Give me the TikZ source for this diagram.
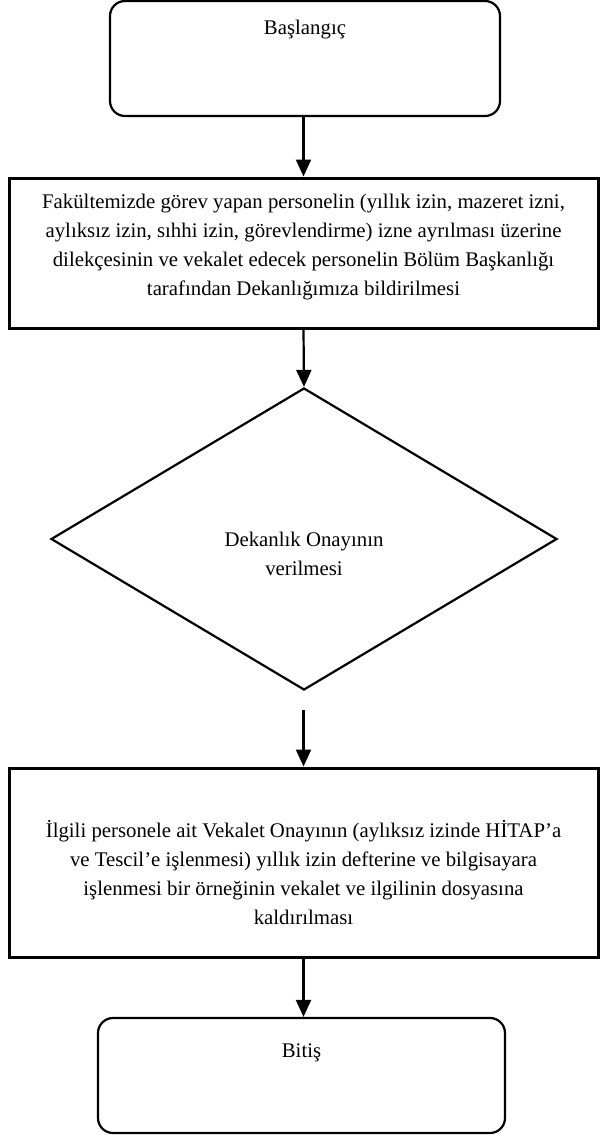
\documentclass[tikz,border=0pt]{standalone}
\usepackage{fontspec}
\setmainfont{Liberation Serif}
\usetikzlibrary{arrows.meta,shapes.geometric}
\begin{document}
\begin{tikzpicture}[x=1pt,y=-1pt,
 term/.style={draw, line width=2.2pt, rounded corners=15pt, inner sep=0},
 proc/.style={draw, line width=3pt, minimum width=589pt, inner sep=0},
 dec/.style={draw, diamond, line width=2.2pt, minimum width=506pt, minimum height=302pt, inner sep=0},
 txt/.style={font=\fontsize{20.8}{29}\selectfont, align=center, inner sep=0},
 arr/.style={line width=2.2pt, -{Triangle[width=15pt,length=17pt]}}]
\useasboundingbox (0,0) rectangle (600,1135);
\node[term, minimum width=390pt, minimum height=115pt] (start) at (305,58.5) {};
\node[proc, minimum height=150pt] (box2) at (303.5,253) {};
\node[dec] (dec) at (304,539) {};
\node[proc, minimum height=189pt] (box3) at (303.5,862.5) {};
\node[term, minimum width=407pt, minimum height=115pt] (end) at (301.5,1075.5) {};
\node[txt] (t1) at (305,30) {Başlangıç};
\node[txt] (t2) at (303.5,247) {Fakültemizde görev yapan personelin (yıllık izin, mazeret izni,\\aylıksız izin, sıhhi izin, görevlendirme) izne ayrılması üzerine\\dilekçesinin ve vekalet edecek personelin Bölüm Başkanlığı\\tarafından Dekanlığımıza bildirilmesi};
\node[txt] (t3) at (304,554) {Dekanlık Onayının\\verilmesi};
\node[txt] (t4) at (303.5,873) {İlgili personele ait Vekalet Onayının (aylıksız izinde HİTAP’a\\ve Tescil’e işlenmesi) yıllık izin defterine ve bilgisayara\\işlenmesi bir örneğinin vekalet ve ilgilinin dosyasına\\kaldırılması};
\node[txt] (t5) at (301.5,1053) {Bitiş};
\coordinate (c3) at (303.5,710);
\draw[arr] (303.5,0 |- start.south) -- (303.5,0 |- box2.north);
\draw[arr] (box2.south) -- (dec.north);
\draw[arr] (c3) -- (c3 |- box3.north);
\draw[arr] (box3.south) -- (box3.south |- end.north);
\end{tikzpicture}
\end{document}
